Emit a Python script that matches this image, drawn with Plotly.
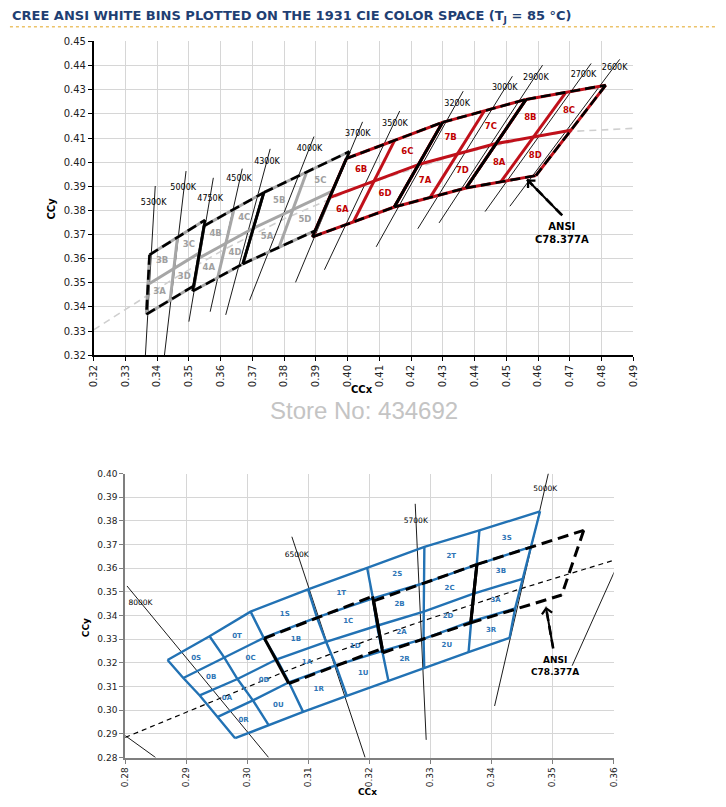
import plotly.graph_objects as go

# ================= TOP CHART DATA (CIE 1931, Cree bins 3A..8D) =================
TOP_GROUPS = ["3", "4", "5", "6", "7", "8"]
TOP_ANSI_CCT = ["5000K", "4500K", "4000K", "3500K", "3000K", "2700K"]
# ANSI C78.377A quadrangle corners
TOP_TL_X = [0.3376, 0.3548, 0.3736, 0.3996, 0.4299, 0.4562]
TOP_TL_Y = [0.3616, 0.3736, 0.3874, 0.4015, 0.4165, 0.4260]
TOP_TR_X = [0.3551, 0.3736, 0.4006, 0.4299, 0.4562, 0.4813]
TOP_TR_Y = [0.3760, 0.3874, 0.4044, 0.4165, 0.4260, 0.4319]
TOP_BR_X = [0.3515, 0.3670, 0.3898, 0.4147, 0.4373, 0.4593]
TOP_BR_Y = [0.3487, 0.3578, 0.3716, 0.3814, 0.3893, 0.3944]
TOP_BL_X = [0.3366, 0.3512, 0.3670, 0.3889, 0.4147, 0.4373]
TOP_BL_Y = [0.3369, 0.3465, 0.3578, 0.3690, 0.3814, 0.3893]
# Cree sub-bin split points (top edge, bottom edge, left edge, right edge, centre)
TOP_ST_X = [0.3464, 0.3642, 0.3871, 0.4148, 0.4431, 0.4688]
TOP_ST_Y = [0.3688, 0.3805, 0.3959, 0.4090, 0.4213, 0.4290]
TOP_SB_X = [0.3441, 0.3591, 0.3784, 0.4018, 0.4260, 0.4483]
TOP_SB_Y = [0.3428, 0.3522, 0.3647, 0.3752, 0.3854, 0.3919]
TOP_SL_X = [0.3371, 0.3530, 0.3703, 0.3943, 0.4223, 0.4468]
TOP_SL_Y = [0.3493, 0.3601, 0.3726, 0.3853, 0.3990, 0.4077]
TOP_SR_X = [0.3533, 0.3703, 0.3952, 0.4223, 0.4468, 0.4703]
TOP_SR_Y = [0.3624, 0.3726, 0.3880, 0.3990, 0.4077, 0.4132]
TOP_C_X = [0.3452, 0.3617, 0.3828, 0.4083, 0.4345, 0.4585]
TOP_C_Y = [0.3558, 0.3663, 0.3803, 0.3921, 0.4033, 0.4104]

# black-body locus (light grey dashed)
TOP_LOCUS_X = [0.3200, 0.3312, 0.3451, 0.3608, 0.3805, 0.4053, 0.4369, 0.4599, 0.4702, 0.4899]
TOP_LOCUS_Y = [0.3305, 0.3398, 0.3516, 0.3636, 0.3768, 0.3907, 0.4041, 0.4106, 0.4127, 0.4140]

# isotherm lines
TOP_ISO_NAMES = ["5300K", "5000K", "4750K", "4500K", "4300K", "4000K", "3700K",
                 "3500K", "3200K", "3000K", "2900K", "2700K", "2600K"]
TOP_ISO_X1 = [0.3394, 0.3491, 0.3577, 0.3668, 0.3756, 0.3894, 0.4047, 0.4164, 0.4364, 0.4519, 0.4614, 0.4767, 0.4857]
TOP_ISO_Y1 = [0.3901, 0.3963, 0.3935, 0.3973, 0.4055, 0.4106, 0.4167, 0.4212, 0.4294, 0.4356, 0.4402, 0.4409, 0.4426]
TOP_ISO_X2 = [0.3363, 0.3423, 0.3500, 0.3567, 0.3616, 0.3691, 0.3836, 0.3927, 0.4090, 0.4221, 0.4288, 0.4433, 0.4511]
TOP_ISO_Y2 = [0.3200, 0.3200, 0.3339, 0.3380, 0.3367, 0.3427, 0.3502, 0.3554, 0.3649, 0.3724, 0.3748, 0.3795, 0.3817]
TOP_ISO_LX = [0.3389, 0.3482, 0.3567, 0.3658, 0.3746, 0.3880, 0.4032, 0.4149, 0.4345, 0.4495, 0.4593, 0.4743, 0.4841]
TOP_ISO_LY = [0.3830, 0.3894, 0.3849, 0.3928, 0.4001, 0.4054, 0.4115, 0.4160, 0.4242, 0.4308, 0.4349, 0.4361, 0.4392]

TOP_ANSI_LABEL = (0.4676, 0.3705)
TOP_ARROW_FROM = (0.4676, 0.3779)
TOP_ARROW_TO = (0.4565, 0.3928)

# ================= BOTTOM CHART DATA (Cree bins 0A..3S) =================
# grid nodes: rows H4 (top) .. H0 (bottom), columns V0..V7
BOT_H4_X = [0.28694, 0.29382, 0.30054, 0.30995, 0.31963, 0.32900, 0.33801, 0.34795]
BOT_H4_Y = [0.32125, 0.33125, 0.34167, 0.35105, 0.36014, 0.36900, 0.37596, 0.38404]
BOT_H3_X = [0.28952, 0.29624, 0.30269, 0.31140, 0.32059, 0.32900, 0.33758, 0.34645]
BOT_H3_Y = [0.31362, 0.32222, 0.33056, 0.33920, 0.34722, 0.35375, 0.36154, 0.36904]
BOT_H2_X = [0.29221, 0.29839, 0.30484, 0.31290, 0.32124, 0.32890, 0.33705, 0.34511]
BOT_H2_Y = [0.30625, 0.31319, 0.32153, 0.32890, 0.33569, 0.34167, 0.34929, 0.35554]
BOT_H1_X = [0.29516, 0.30092, 0.30682, 0.31450, 0.32205, 0.32887, 0.33666, 0.34387]
BOT_H1_Y = [0.29721, 0.30417, 0.31181, 0.31900, 0.32500, 0.33013, 0.33750, 0.34304]
BOT_H0_X = [0.29801, 0.30350, 0.30914, 0.31630, 0.32311, 0.32898, 0.33624, 0.34295]
BOT_H0_Y = [0.28821, 0.29375, 0.29931, 0.30610, 0.31250, 0.31806, 0.32458, 0.33054]
BOT_BIN_COLS = [["0S", "0B", "0A", "0R"], ["0T", "0C", "0D", "0U"],
                ["1S", "1B", "1A", "1R"], ["1T", "1C", "1D", "1U"],
                ["2S", "2B", "2A", "2R"], ["2T", "2C", "2D", "2U"],
                ["3S", "3B", "3A", "3R"]]

BOT_ANSI_CCT = ["6500K", "5700K", "5000K"]
BOT_TL_X = [0.3028, 0.3207, 0.3376]
BOT_TL_Y = [0.3304, 0.3462, 0.3616]
BOT_TR_X = [0.3205, 0.3376, 0.3551]
BOT_TR_Y = [0.3481, 0.3616, 0.3760]
BOT_BR_X = [0.3221, 0.3366, 0.3515]
BOT_BR_Y = [0.3261, 0.3369, 0.3487]
BOT_BL_X = [0.3068, 0.3222, 0.3366]
BOT_BL_Y = [0.3113, 0.3243, 0.3369]

BOT_LOCUS_X = [0.2800, 0.2952, 0.3064, 0.3135, 0.3221, 0.3287, 0.3451, 0.3602]
BOT_LOCUS_Y = [0.2885, 0.3048, 0.3166, 0.3236, 0.3318, 0.3377, 0.3516, 0.3635]

BOT_ISO_NAMES = ["8000K", "", "6500K", "5700K", "5000K", ""]
BOT_ISO_X1 = [0.2803, 0.2800, 0.3073, 0.3275, 0.3493, 0.3532]
BOT_ISO_Y1 = [0.3525, 0.2893, 0.3733, 0.3872, 0.4000, 0.3188]
BOT_ISO_X2 = [0.3035, 0.2850, 0.3193, 0.3293, 0.3405, 0.3602]
BOT_ISO_Y2 = [0.2800, 0.2800, 0.2800, 0.2875, 0.3018, 0.3590]
BOT_ISO_LX = [0.2825, None, 0.3081, 0.3276, 0.3488, None]
BOT_ISO_LY = [0.3454, None, 0.3657, 0.3799, 0.3935, None]

BOT_ANSI_LABEL = (0.3504, 0.3186)
BOT_ARROW_FROM = (0.3501, 0.3261)
BOT_ARROW_TO = (0.3489, 0.3437)

TITLE = "CREE ANSI WHITE BINS PLOTTED ON THE 1931 CIE COLOR SPACE (T<sub>J</sub> = 85 °C)"
WATERMARK = "Store No: 434692"

# ================= FIGURE =================
W, H = 726, 807
FONT = "DejaVu Sans"
GREY = "#a6a6a6"
RED = "#c0101a"
BLUE = "#2272b4"
fig = go.Figure()


def lines(segs, color, width, dash="solid", xa="x", ya="y"):
    xs, ys = [], []
    for s in segs:
        for p in s:
            xs.append(p[0]); ys.append(p[1])
        xs.append(None); ys.append(None)
    fig.add_trace(go.Scatter(x=xs, y=ys, mode="lines", xaxis=xa, yaxis=ya,
                             line=dict(color=color, width=width, dash=dash),
                             hoverinfo="skip", showlegend=False))


def texts(xs, ys, labels, color, size, bold=False, xa="x", ya="y"):
    fig.add_trace(go.Scatter(x=xs, y=ys, mode="text", text=labels, xaxis=xa, yaxis=ya,
                             textfont=dict(family=FONT, size=size, color=color,
                                           weight="bold" if bold else "normal"),
                             hoverinfo="skip", showlegend=False))


def centroid(pts):
    return (sum(p[0] for p in pts) / len(pts), sum(p[1] for p in pts) / len(pts))


# ---------- top chart ----------
lines([list(zip(TOP_LOCUS_X, TOP_LOCUS_Y))], "#cfcfcf", 1.6, "7px,5px")
lines([[(TOP_ISO_X1[i], TOP_ISO_Y1[i]), (TOP_ISO_X2[i], TOP_ISO_Y2[i])] for i in range(len(TOP_ISO_NAMES))],
      "black", 0.9)

for grp_idx, col in ((range(0, 3), GREY), (range(3, 6), RED)):
    segs = []
    for i in grp_idx:
        TL = (TOP_TL_X[i], TOP_TL_Y[i]); TR = (TOP_TR_X[i], TOP_TR_Y[i])
        BR = (TOP_BR_X[i], TOP_BR_Y[i]); BL = (TOP_BL_X[i], TOP_BL_Y[i])
        ST = (TOP_ST_X[i], TOP_ST_Y[i]); SB = (TOP_SB_X[i], TOP_SB_Y[i])
        SL = (TOP_SL_X[i], TOP_SL_Y[i]); SR = (TOP_SR_X[i], TOP_SR_Y[i])
        segs += [[TL, TR], [BL, BR], [TL, BL], [TR, BR], [ST, SB], [SL, SR]]
    lines(segs, col, 3)

dashed, solid = [], []
n = len(TOP_ANSI_CCT)
for i in range(n):
    TL = (TOP_TL_X[i], TOP_TL_Y[i]); TR = (TOP_TR_X[i], TOP_TR_Y[i])
    BR = (TOP_BR_X[i], TOP_BR_Y[i]); BL = (TOP_BL_X[i], TOP_BL_Y[i])
    dashed += [[TL, TR], [BL, BR]]
    (dashed if i == 0 else solid).append([TL, BL])
    (dashed if i == n - 1 else solid).append([TR, BR])
lines(dashed, "black", 2.6, "10px,5px")
lines(solid, "black", 2.6)

for i, g in enumerate(TOP_GROUPS):
    TL = (TOP_TL_X[i], TOP_TL_Y[i]); TR = (TOP_TR_X[i], TOP_TR_Y[i])
    BR = (TOP_BR_X[i], TOP_BR_Y[i]); BL = (TOP_BL_X[i], TOP_BL_Y[i])
    ST = (TOP_ST_X[i], TOP_ST_Y[i]); SB = (TOP_SB_X[i], TOP_SB_Y[i])
    SL = (TOP_SL_X[i], TOP_SL_Y[i]); SR = (TOP_SR_X[i], TOP_SR_Y[i])
    C = (TOP_C_X[i], TOP_C_Y[i])
    cells = {"A": [SL, C, SB, BL], "B": [TL, ST, C, SL], "C": [ST, TR, SR, C], "D": [C, SR, BR, SB]}
    xs, ys, lb = [], [], []
    for k, pts in cells.items():
        cx, cy = centroid(pts)
        xs.append(cx); ys.append(cy); lb.append(g + k)
    texts(xs, ys, lb, "#a0a0a0" if i < 3 else "#c00000", 8.5, True)

texts(TOP_ISO_LX, TOP_ISO_LY, TOP_ISO_NAMES, "black", 8)

# ---------- bottom chart ----------
rows = [(BOT_H4_X, BOT_H4_Y), (BOT_H3_X, BOT_H3_Y), (BOT_H2_X, BOT_H2_Y),
        (BOT_H1_X, BOT_H1_Y), (BOT_H0_X, BOT_H0_Y)]
lines([list(zip(BOT_LOCUS_X, BOT_LOCUS_Y))], "black", 1.2, "5px,4px", "x2", "y2")
lines([[(BOT_ISO_X1[i], BOT_ISO_Y1[i]), (BOT_ISO_X2[i], BOT_ISO_Y2[i])] for i in range(len(BOT_ISO_NAMES))],
      "black", 0.9, "solid", "x2", "y2")
segs = [list(zip(rx, ry)) for rx, ry in rows]
ncol = len(BOT_H4_X)
for j in range(ncol):
    segs.append([(rx[j], ry[j]) for rx, ry in rows])
lines(segs, BLUE, 2.4, "solid", "x2", "y2")

dashed, solid = [], []
n = len(BOT_ANSI_CCT)
for i in range(n):
    TL = (BOT_TL_X[i], BOT_TL_Y[i]); TR = (BOT_TR_X[i], BOT_TR_Y[i])
    BR = (BOT_BR_X[i], BOT_BR_Y[i]); BL = (BOT_BL_X[i], BOT_BL_Y[i])
    dashed += [[TL, TR], [BL, BR]]
    solid.append([TL, BL])
    (dashed if i == n - 1 else solid).append([TR, BR])
lines(dashed, "black", 3, "11px,6px", "x2", "y2")
lines(solid, "black", 3, "solid", "x2", "y2")

xs, ys, lb = [], [], []
for c, col_labels in enumerate(BOT_BIN_COLS):
    for r, name in enumerate(col_labels):
        (ax_, ay_), (bx_, by_) = rows[r], rows[r + 1]
        cx, cy = centroid([(ax_[c], ay_[c]), (ax_[c + 1], ay_[c + 1]),
                           (bx_[c + 1], by_[c + 1]), (bx_[c], by_[c])])
        xs.append(cx); ys.append(cy); lb.append(name)
texts(xs, ys, lb, "#2e75b6", 7, True, "x2", "y2")

lx = [v for v in BOT_ISO_LX if v is not None]
ly = [v for v in BOT_ISO_LY if v is not None]
ln = [nm for nm, v in zip(BOT_ISO_NAMES, BOT_ISO_LX) if v is not None]
texts(lx, ly, ln, "black", 7.5, False, "x2", "y2")

# ---------- annotations / shapes ----------
annotations = []
shapes = []
for (lab, frm, to, xr, yr, fs) in ((TOP_ANSI_LABEL, TOP_ARROW_FROM, TOP_ARROW_TO, "x", "y", 10),
                                   (BOT_ANSI_LABEL, BOT_ARROW_FROM, BOT_ARROW_TO, "x2", "y2", 9)):
    annotations.append(dict(x=lab[0], y=lab[1], xref=xr, yref=yr, text="<b>ANSI<br>C78.377A</b>",
                            showarrow=False, font=dict(family=FONT, size=fs, color="black")))
    shapes.append(dict(type="line", xref=xr, yref=yr, x0=frm[0], y0=frm[1], x1=to[0], y1=to[1],
                       line=dict(color="black", width=2.6, dash="9px,5px")))
    annotations.append(dict(x=to[0], y=to[1], xref=xr, yref=yr, ax=frm[0], ay=frm[1],
                            axref=xr, ayref=yr, text=" ", showarrow=True, arrowhead=4,
                            arrowsize=1.0, arrowwidth=2, arrowcolor="black", standoff=0,
                            startstandoff=0, font=dict(size=1)))

def px_x(p):
    return p / W

def px_y(p):
    return 1 - p / H

C_ = dict(xref="paper", yref="paper", xanchor="center", yanchor="middle", showarrow=False)
annotations += [
    dict(x=px_x(4), y=px_y(12), xref="paper", yref="paper", xanchor="left", yanchor="middle",
         text="<b>" + TITLE + "</b>", showarrow=False,
         font=dict(family=FONT, size=13, color="#1f3f73")),
    dict(C_, x=px_x(361), y=px_y(390), text="<b>CCx</b>",
         font=dict(family=FONT, size=10, color="black")),
    dict(C_, x=px_x(46), y=px_y(206), text="<b>CCy</b>", textangle=-90,
         font=dict(family=FONT, size=10, color="black")),
    dict(C_, x=px_x(367), y=px_y(798), text="<b>CCx</b>",
         font=dict(family=FONT, size=9, color="black")),
    dict(C_, x=px_x(82), y=px_y(631), text="<b>CCy</b>", textangle=-90,
         font=dict(family=FONT, size=9, color="black")),
    dict(C_, x=px_x(363), y=px_y(411), text=WATERMARK,
         font=dict(family="Liberation Sans", size=24, color="#c4c4c4")),
]
shapes.append(dict(type="line", xref="paper", yref="paper", x0=px_x(4), x1=px_x(722),
                   y0=px_y(22), y1=px_y(22), line=dict(color="#ecc36a", width=1.5, dash="dot")))

axis_common = dict(showgrid=True, gridcolor="#d6d6d6", gridwidth=1.3, zeroline=False,
                   showline=True, ticks="outside", ticklen=4, dtick=0.01, tickformat=".2f")

fig.update_layout(
    width=W, height=H, margin=dict(l=0, r=0, t=0, b=0),
    paper_bgcolor="white", plot_bgcolor="white", showlegend=False,
    xaxis=dict(axis_common, range=[0.32, 0.49], tick0=0.32, domain=[px_x(89), px_x(637)], anchor="y",
               tickangle=-90, linecolor="black", linewidth=1.5, tickcolor="black",
               tickfont=dict(family=FONT, size=10, color="#222")),
    yaxis=dict(axis_common, range=[0.32, 0.45], tick0=0.32, domain=[px_y(355), px_y(37)], anchor="x",
               linecolor="black", linewidth=1.5, tickcolor="black",
               tickfont=dict(family=FONT, size=10, color="#222")),
    xaxis2=dict(axis_common, range=[0.28, 0.36], tick0=0.28, domain=[px_x(121), px_x(617)], anchor="y2",
                tickangle=-90, linecolor="#7f7f7f", linewidth=2, tickcolor="#7f7f7f",
                tickfont=dict(family=FONT, size=9, color="#222")),
    yaxis2=dict(axis_common, range=[0.28, 0.40], tick0=0.28, domain=[px_y(763), px_y(475)], anchor="x2",
                linecolor="#7f7f7f", linewidth=2, tickcolor="#7f7f7f",
                tickfont=dict(family=FONT, size=9, color="#222")),
    annotations=annotations, shapes=shapes,
)

fig.write_html("out.html", config={"displayModeBar": False},
               post_script="document.body.style.margin='0px';document.body.style.overflow='hidden';")
